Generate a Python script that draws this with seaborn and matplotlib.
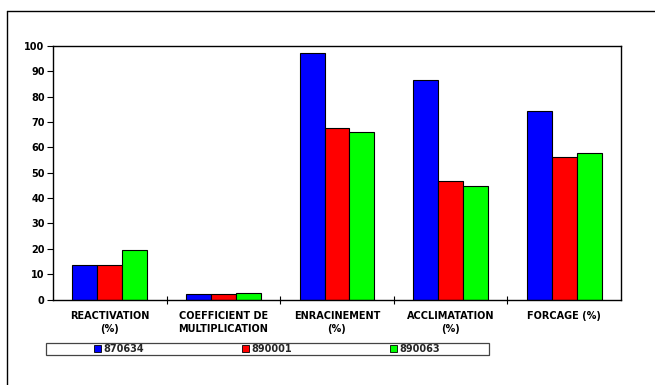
import matplotlib
matplotlib.use('Agg')
import matplotlib.pyplot as plt
import seaborn as sns
import pandas as pd
from matplotlib.patches import Rectangle
from matplotlib.lines import Line2D

sns.set_style('white')
plt.rcParams['font.family'] = ['DejaVu Sans']

categories = ['REACTIVATION\n(%)', 'COEFFICIENT DE\nMULTIPLICATION', 'ENRACINEMENT\n(%)',
              'ACCLIMATATION\n(%)', 'FORCAGE (%)']
clones = ['870634', '890001', '890063']
v_870634 = [13.8, 2.2, 97.2, 86.6, 74.4]
v_890001 = [13.8, 2.0, 67.8, 46.6, 56.4]
v_890063 = [19.4, 2.4, 66.0, 44.8, 57.8]
colors = ['#0000ff', '#ff0000', '#00ff00']

df = pd.DataFrame({
    'cat': categories * 3,
    'clone': [c for c in clones for _ in categories],
    'val': v_870634 + v_890001 + v_890063,
})

W, H = 655, 385
fig = plt.figure(figsize=(W / 100, H / 100), dpi=100)
ax = fig.add_axes([53 / W, 1 - 299.5 / H, (621 - 53) / W, (299.5 - 46) / H])

sns.barplot(data=df, x='cat', y='val', hue='clone', palette=colors, width=0.66,
            edgecolor='black', linewidth=0.8, ax=ax, legend=False, saturation=1)

ax.set_ylim(0, 100)
ax.set_xlim(-0.5, 4.5)
ax.set_yticks(range(0, 101, 10))
ax.set_xlabel('')
ax.set_ylabel('')
for s in ax.spines.values():
    s.set_color('black')
    s.set_linewidth(1.0)

ax.tick_params(axis='y', direction='out', length=4, width=0.8, color='black', pad=2,
               labelsize=7, left=True)
ax.tick_params(axis='x', which='major', length=0, pad=8, labelsize=7)
ax.set_xticks([i + 0.5 for i in range(4)], minor=True)
ax.tick_params(axis='x', which='minor', direction='inout', length=6, width=0.8, color='black',
               bottom=True)
for lab in ax.get_xticklabels() + ax.get_yticklabels():
    lab.set_fontweight('bold')
    lab.set_color('black')
for lab in ax.get_xticklabels():
    lab.set_linespacing(1.45)

# legend box
fig.patches.append(Rectangle((47 / W, 1 - 356 / H), 443 / W, 12 / H, transform=fig.transFigure,
                             facecolor='#888888', edgecolor='none', zorder=0))
fig.patches.append(Rectangle((46 / W, 1 - 355 / H), 443 / W, 12 / H, transform=fig.transFigure,
                             facecolor='white', edgecolor='#444444', linewidth=0.9, zorder=1))
handles = [Rectangle((0, 0), 1, 1, facecolor=c, edgecolor='black', linewidth=0.6) for c in colors]
leg = fig.legend(handles, clones, loc='center', bbox_to_anchor=(267 / W, 1 - 349 / H), ncol=3,
                 frameon=False, fontsize=7, handlelength=0.75, handleheight=0.75,
                 handletextpad=0.2, columnspacing=10.1, borderpad=0)
for t in leg.get_texts():
    t.set_fontweight('bold')

# outer chart frame
fig.add_artist(Line2D([7 / W, 7 / W], [0, 1 - 11 / H], transform=fig.transFigure,
                      color='black', linewidth=1.0))
fig.add_artist(Line2D([7 / W, 1], [1 - 11 / H, 1 - 11 / H], transform=fig.transFigure,
                      color='black', linewidth=1.0))

fig.savefig('out.png', dpi=100, facecolor='white')
